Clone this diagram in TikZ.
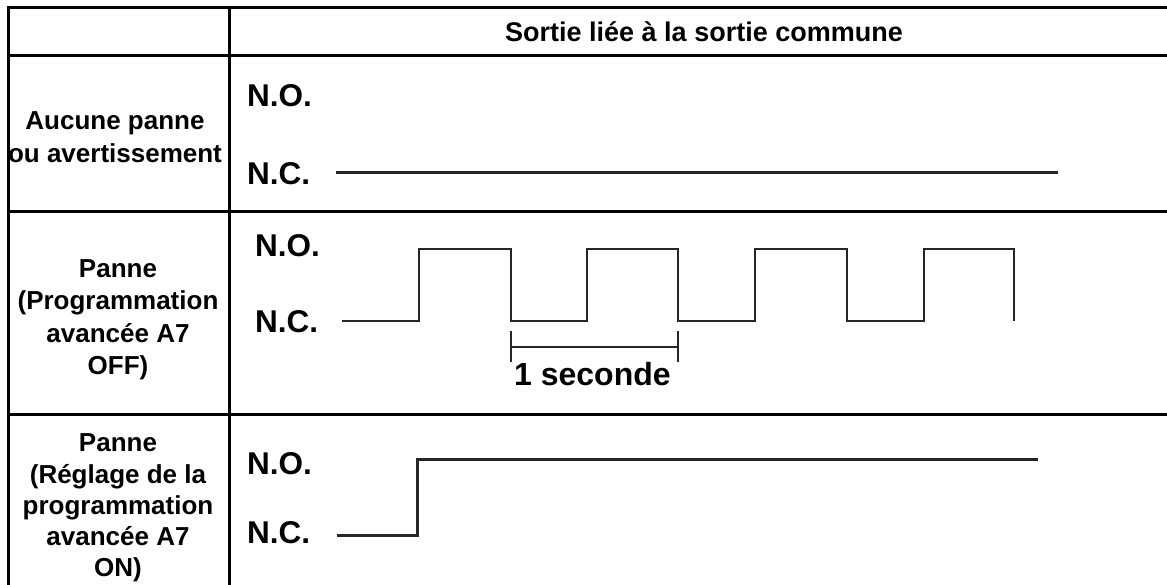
\documentclass[tikz,border=0pt]{standalone}
\usepackage{fontspec}
\setmainfont{Liberation Sans}
\begin{document}
\begin{tikzpicture}[x=1pt,y=-1pt,
  grid/.style={line width=3pt,black},
  wave/.style={line width=2.3pt,black!85},
  flat/.style={line width=3pt,black!85},
  lbl/.style={font=\fontsize{26}{32.5}\selectfont\bfseries,align=center,inner sep=0pt},
  sig/.style={font=\fontsize{31.5}{31.5}\selectfont\bfseries,inner sep=0pt,anchor=base west},
  hdr/.style={font=\fontsize{27}{30}\selectfont\bfseries,inner sep=0pt}]
\useasboundingbox (0,0) rectangle (1167,585);
% table
\draw[grid] (8,8) -- (1167,8);
\draw[grid] (8,56) -- (1167,56);
\draw[grid] (8,212) -- (1167,212);
\draw[grid] (8,414) -- (1167,414);
\draw[grid] (8,6.5) -- (8,585);
\draw[grid] (229,6.5) -- (229,585);
% header
\node[hdr] (h) at (704,32) {Sortie liée à la sortie commune};
% row labels
\node[lbl] (r1) at (115,137) {Aucune panne\\ou avertissement};
\node[lbl] (r2) at (118,320) {Panne\\(Programmation\\avancée A7\\OFF)};
\node[lbl,font=\fontsize{26}{31.2}\selectfont\bfseries] (r3) at (118,508) {Panne\\(Réglage de la\\programmation\\avancée A7\\ON)};
% signal labels
\node[sig] (no1) at (247,107) {N.O.};
\node[sig] (nc1) at (247,185) {N.C.};
\node[sig] (no2) at (255,257) {N.O.};
\node[sig] (nc2) at (255,332) {N.C.};
\node[sig] (no3) at (247,474) {N.O.};
\node[sig] (nc3) at (247,543) {N.C.};
% row 1 signal
\draw[flat] (336,173) -- (1058,173);
% row 2 signal
\draw[wave] (342,321) -- (419,321) -- (419,249) -- (511,249) -- (511,321)
  -- (587,321) -- (587,249) -- (678,249) -- (678,321) -- (755,321)
  -- (755,249) -- (847,249) -- (847,321) -- (924,321) -- (924,249)
  -- (1014,249) -- (1014,321);
% bracket
\draw[wave] (511,331) -- (511,362);
\draw[wave] (678,331) -- (678,362);
\draw[wave] (511,347) -- (678,347);
\node[font=\fontsize{32}{32}\selectfont\bfseries,inner sep=0pt,anchor=base west] (sec) at (514,385) {1 seconde};
% row 3 signal
\draw[flat] (337,535) -- (417,535) -- (417,459) -- (1038,459);
\end{tikzpicture}
\end{document}
